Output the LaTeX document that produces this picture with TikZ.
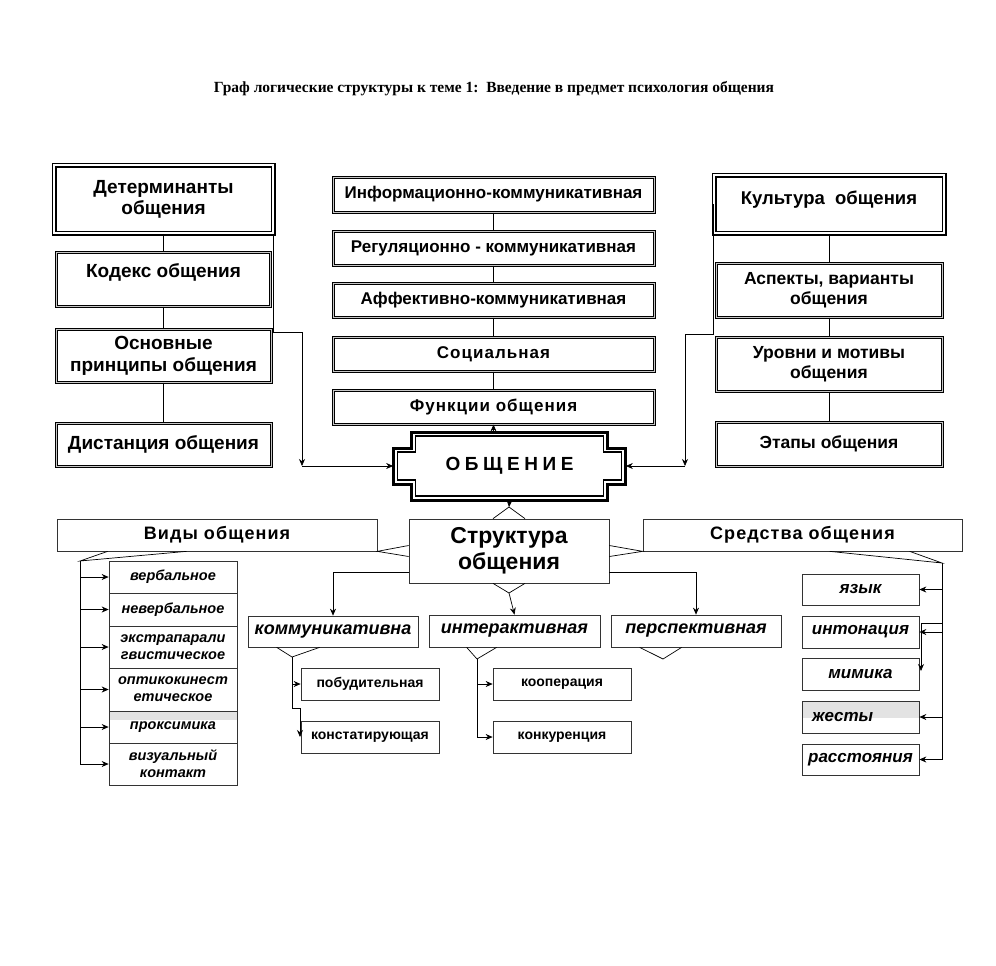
\documentclass[tikz,border=0pt]{standalone}
\usepackage{fontspec}
\setmainfont{Liberation Sans}
\newfontfamily\titlefont{Liberation Serif}
\newfontfamily\spacedfont[LetterSpace=6]{Liberation Sans}
\newfontfamily\widefont[LetterSpace=24]{Liberation Sans}
\usepackage{tikz}
\usetikzlibrary{arrows.meta}

\begin{document}
\begin{tikzpicture}[x=1pt, y=-1pt, line width=.7pt,
  arr/.style={-{Stealth[length=7pt,width=6pt]}},
  box/.style={draw, double=gray!45, line width=1pt, double distance=1pt, inner sep=0pt, align=center,
    font=\fontsize{17}{20}\selectfont\bfseries},
  leftbox/.style={box, font=\fontsize{19}{22}\selectfont\bfseries},
  rightbox/.style={box, font=\fontsize{17.5}{20}\selectfont\bfseries},
  bigbox/.style={draw, double, line width=1.5pt, double distance=2pt, inner sep=0pt, align=center},
  plainbox/.style={draw=black!80, line width=.7pt, inner sep=0pt, align=center,
    font=\fontsize{18}{20}\selectfont\spacedfont\bfseries},
  kind/.style={plainbox, minimum width=128pt, font=\fontsize{14.5}{17}\selectfont\bfseries\itshape},
  branch/.style={plainbox, minimum width=170pt, minimum height=32pt, font=\fontsize{18}{20}\selectfont\bfseries\itshape},
  subbox/.style={plainbox, minimum width=138pt, minimum height=32pt, font=\fontsize{14}{16}\selectfont\bfseries},
  means/.style={plainbox, minimum width=117pt, minimum height=32pt, font=\fontsize{17}{20}\selectfont\bfseries\itshape},
  grayband/.style={path picture={\fill[gray!22] (path picture bounding box.north west) rectangle ([yshift=#1]path picture bounding box.north east);}}
]
\useasboundingbox (0,0) rectangle (996,966);

\node (title) at (494,89) {\titlefont\bfseries\fontsize{15.5}{18}\selectfont Граф логические структуры к теме 1:\ \ Введение в предмет психология общения};

% left column
\node[bigbox, minimum width=219pt, minimum height=68pt, font=\fontsize{19}{21}\selectfont\bfseries] (det) at (163.5,199) {Детерминанты\\общения};
\node[leftbox, minimum width=214pt, minimum height=54pt] (kodeks) at (163.5,279) {Кодекс общения\\[-12pt]\strut};
\node[leftbox, minimum width=215pt, minimum height=53pt] (princ) at (163.5,355.5) {Основные\\принципы общения};
\node[leftbox, minimum width=215pt, minimum height=43pt] (dist) at (163.5,444.5) {Дистанция общения};

% functions
\node[box, minimum width=321pt, minimum height=35pt] (inform) at (493.5,194.5) {Информационно-коммуникативная};
\node[box, minimum width=321pt, minimum height=34pt] (regul) at (493.5,248) {Регуляционно - коммуникативная};
\node[box, minimum width=321pt, minimum height=34pt] (affekt) at (493.5,300) {Аффективно-коммуникативная};
\node[box, minimum width=321pt, minimum height=34pt] (social) at (493.5,354) {\spacedfont\bfseries Социальная};
\node[box, minimum width=321pt, minimum height=34pt] (func) at (493.5,407) {\spacedfont\bfseries Функции общения};

% right column
\node[bigbox, minimum width=230pt, minimum height=58pt, font=\fontsize{18.5}{21}\selectfont\bfseries] (kult) at (829,204) {Культура\ \ общения\\[-14pt]\strut};
\node[rightbox, minimum width=226pt, minimum height=54pt] (aspekt) at (829,290) {Аспекты, варианты\\общения};
\node[rightbox, minimum width=226pt, minimum height=54pt] (urovni) at (829,364) {Уровни и мотивы\\общения};
\node[rightbox, minimum width=226pt, minimum height=44pt] (etapy) at (829,444) {Этапы общения};

% centre
\node[minimum width=232pt, minimum height=68pt, inner sep=0pt] (obsh) at (509.5,466)
  {\fontsize{19}{22}\selectfont\widefont\bfseries ОБЩЕНИЕ};
\draw[line width=3pt, shift={(obsh.center)}] (-98,-34) -- (98,-34) -- (98,-18) -- (116,-18) -- (116,18) -- (98,18)
  -- (98,34) -- (-98,34) -- (-98,18) -- (-116,18) -- (-116,-18) -- (-98,-18) -- cycle;
\draw[line width=1.1pt, shift={(obsh.center)}] (-94,-30) -- (94,-30) -- (94,-14) -- (112,-14) -- (112,14) -- (94,14)
  -- (94,30) -- (-94,30) -- (-94,14) -- (-112,14) -- (-112,-14) -- (-94,-14) -- cycle;

\node[plainbox, minimum width=200pt, minimum height=64pt, font=\fontsize{23}{26}\selectfont\bfseries] (strukt) at (509,551) {Структура\\общения};
\node[plainbox, minimum width=320pt, minimum height=32pt] (vidy) at (217,535) {Виды общения};
\node[plainbox, minimum width=319pt, minimum height=32pt] (sredstva) at (802.5,535) {Средства общения};

% kinds
\node[kind, minimum height=32pt] (verb) at (173,577) {вербальное};
\node[kind, minimum height=33pt] (neverb) at (173,609.5) {невербальное};
\node[kind, minimum height=42pt] (ekstra) at (173,647) {экстрапарали\\гвистическое};
\node[kind, minimum height=43pt] (optiko) at (173,689.5) {оптикокинест\\етическое};
\node[kind, minimum height=32pt, grayband=-9pt] (proks) at (173,727) {проксимика};
\node[kind, minimum height=42pt] (vizual) at (173,764) {визуальный\\контакт};

% structure parts
\node[branch, minimum height=31pt] (kommun) at (333,631.5) {коммуникативна};
\node[branch, minimum width=171pt] (interakt) at (514.5,631) {интерактивная};
\node[branch] (perspekt) at (696,631) {перспективная};
\node[subbox] (pobud) at (370,684) {побудительная};
\node[subbox] (konst) at (370,737) {констатирующая};
\node[subbox] (koop) at (562,684) {кооперация};
\node[subbox] (konk) at (562,737) {конкуренция};

% means
\node[means, minimum height=31pt] (yazyk) at (860.5,589.5) {язык};
\node[means] (inton) at (860.5,632) {интонация};
\node[means] (mimika) at (860.5,674) {мимика};
\node[means, text width=97pt, inner xsep=10pt, align=left, grayband=-17pt] (zhesty) at (860.5,717) {жесты};
\node[means, minimum height=31pt] (rasst) at (860.5,759.5) {расстояния};

% columns
\draw (det) -- (kodeks);
\draw (kodeks) -- (princ);
\draw (princ) -- (dist);
\draw (inform) -- (regul);
\draw (regul) -- (affekt);
\draw (affekt) -- (social);
\draw (social) -- (func);
\draw (kult) -- (aspekt);
\draw (aspekt) -- (urovni);
\draw (urovni) -- (etapy);

% into the centre
\coordinate (lbend) at (302,332);
\draw (det.south east) |- (lbend);
\draw[arr] (lbend) -- (lbend |- obsh.west);
\draw[arr] (lbend |- obsh.west) -- (obsh.west);
\coordinate (rbend) at (685,334);
\draw (kult.west) -- (kult.west |- rbend) -- (rbend);
\draw[arr] (rbend) -- (rbend |- obsh.east);
\draw[arr] (rbend |- obsh.east) -- (obsh.east);
\draw[arr] (obsh.north -| func) -- (func.south);

% structure pointers
\coordinate (struktop) at (509,507);
\coordinate (struktbot) at (509,593);
\draw[arr] (obsh.south) -- (struktop);
\draw ([xshift=-16pt]strukt.north) -- (struktop) -- ([xshift=16pt]strukt.north);
\draw ([xshift=-16pt]strukt.south) -- (struktbot) -- ([xshift=16pt]strukt.south);
\draw ([yshift=5.5pt]strukt.west) -- (vidy.south east) -- ([yshift=-5.5pt]strukt.west);
\draw ([yshift=5.5pt]strukt.east) -- (sredstva.south west) -- ([yshift=-5.5pt]strukt.east);
\draw[arr] (struktbot) -- (interakt.north);
\draw[arr] ([yshift=-21pt]strukt.west) -| (kommun.north);
\draw[arr] ([yshift=-21pt]strukt.east) -| (perspekt.north);

% kinds of communication
\coordinate (vidytip) at (80,561);
\draw ([xshift=51pt]vidy.south west) -- (vidytip) -- ([xshift=130pt]vidy.south west);
\draw (vidytip) -- (vidytip |- vizual);
\draw[arr] (vidytip |- verb) -- (verb.west);
\draw[arr] (vidytip |- neverb) -- (neverb.west);
\draw[arr] (vidytip |- ekstra) -- (ekstra.west);
\draw[arr] (vidytip |- optiko) -- (optiko.west);
\draw[arr] (vidytip |- proks) -- (proks.west);
\draw[arr] (vidytip |- vizual) -- (vizual.west);

% communicative
\coordinate (kommtip) at (292,657);
\coordinate (kommbend) at (300,708);
\draw ([xshift=29pt]kommun.south west) -- (kommtip) -- ([xshift=72pt]kommun.south west);
\draw (kommtip) -- (kommtip |- kommbend) -- (kommbend);
\draw[arr] (kommbend) -- (kommbend |- konst);
\draw[arr] (kommtip |- pobud) -- (pobud.west);

% interactive
\coordinate (intertip) at (477,659);
\draw ([xshift=38pt]interakt.south west) -- (intertip) -- ([xshift=68pt]interakt.south west);
\draw (intertip) -- (intertip |- konk);
\draw[arr] (intertip |- koop) -- (koop.west);
\draw[arr] (intertip |- konk) -- (konk.west);

% perspective
\coordinate (persptip) at (663,659);
\draw ([xshift=29pt]perspekt.south west) -- (persptip) -- ([xshift=71pt]perspekt.south west);

% means of communication
\coordinate (sredtip) at (942,563);
\coordinate (sredbend) at (921,623);
\draw ([xshift=187pt]sredstva.south west) -- (sredtip) -- ([xshift=267pt]sredstva.south west);
\draw (sredtip) -- (sredtip |- rasst);
\draw (sredtip |- sredbend) -- (sredbend);
\draw[arr] (sredbend) -- ([yshift=3pt]sredbend |- mimika);
\draw[arr] (sredtip |- yazyk) -- (yazyk.east);
\draw[arr] (sredtip |- inton) -- (inton.east);
\draw[arr] (sredtip |- zhesty) -- (zhesty.east);
\draw[arr] (sredtip |- rasst) -- (rasst.east);
\end{tikzpicture}
\end{document}
